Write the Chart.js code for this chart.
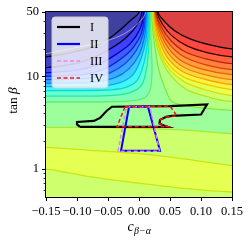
<!DOCTYPE html>
<html>
<head>
<meta charset="utf-8">
<title>tan beta vs c(beta-alpha)</title>
<script src="https://cdn.jsdelivr.net/npm/chart.js@4.4.1/dist/chart.umd.min.js"></script>
<style>
  html, body { margin: 0; padding: 0; background: #fff; }
  #box { width: 251px; height: 242px; }
</style>
</head>
<body>
<div id="box"><canvas id="scan" width="251" height="242"></canvas></div>
<script>
// axes
const X_MIN = -0.15, X_MAX = 0.15;
const Y_MIN = 0.5, Y_MAX = 50;
const X_TICKS = [-0.15, -0.1, -0.05, 0, 0.05, 0.1, 0.15];
const Y_TICKS = [0.6, 0.7, 0.8, 0.9, 1, 2, 3, 4, 5, 6, 7, 8, 9, 10, 20, 30, 40, 50];
const Y_LABELS = [1, 10, 50];

// contours of the left fan, from the top edge down to the left edge  [c, tanb]
const L1 = [[0.0, 50], [-0.0129, 41.0], [-0.0306, 32.0], [-0.0468, 26.3], [-0.0710, 21.5], [-0.1032, 18.6], [-0.15, 16.4]];
const L2 = [[0.0048, 50], [-0.0032, 36.2], [-0.0210, 26.3], [-0.0435, 20.5], [-0.0710, 16.4], [-0.1032, 13.8], [-0.15, 12.5]];
const L3 = [[0.0073, 50], [0.0016, 32.8], [-0.0145, 22.6], [-0.0355, 17.7], [-0.0629, 13.8], [-0.0952, 11.9], [-0.15, 11.0]];
const L4 = [[0.0089, 50], [0.0040, 29.7], [-0.0097, 20.5], [-0.0290, 15.6], [-0.0548, 12.2], [-0.0871, 10.6], [-0.15, 10.1]];
const L5 = [[0.0105, 50], [0.0065, 28.3], [-0.0048, 19.0], [-0.0226, 13.8], [-0.0468, 11.0], [-0.0790, 9.64], [-0.15, 9.29]];
const L6 = [[0.0121, 50], [0.0089, 26.9], [0.0, 17.2], [-0.0161, 12.2], [-0.0387, 9.75], [-0.0710, 8.73], [-0.15, 8.51]];
const L7 = [[0.0137, 50], [0.0113, 25.6], [0.0032, 15.6], [-0.0097, 10.5], [-0.0306, 8.62], [-0.0629, 7.91], [-0.15, 7.81]];
const L8 = [[0.0153, 50], [0.0137, 24.4], [0.0081, 14.1], [-0.0032, 9.06], [-0.0226, 7.62], [-0.0548, 7.16], [-0.15, 7.07]];
const L9 = [[0.0169, 50], [0.0161, 24.4], [0.0129, 13.1], [0.0048, 8.20], [-0.0145, 6.73], [-0.0468, 6.25], [-0.15, 6.17]];
const L10 = [[0.0185, 50], [0.0194, 24.4], [0.0210, 11.6], [0.0177, 7.07], [0.0065, 5.80], [-0.0306, 5.39], [-0.15, 5.32]];

// contours of the right fan, from the top edge out to the right edge
const R92 = [[0.0306, 50], [0.0419, 39.0], [0.0581, 31.2], [0.0823, 25.6], [0.1145, 22.1], [0.15, 20.0]];
const R88 = [[0.0290, 50], [0.0387, 36.2], [0.0532, 27.6], [0.0774, 21.5], [0.1113, 18.1], [0.15, 16.4]];
const R84 = [[0.0274, 50], [0.0371, 33.6], [0.0516, 24.4], [0.0742, 18.6], [0.1081, 15.6], [0.15, 13.8]];
const R80 = [[0.0266, 50], [0.0355, 32.0], [0.0500, 22.1], [0.0726, 16.4], [0.1065, 13.5], [0.15, 11.9]];
const R76 = [[0.0258, 50], [0.0339, 30.5], [0.0484, 20.0], [0.0710, 14.5], [0.1048, 11.9], [0.15, 10.5]];
const R72 = [[0.0250, 50], [0.0323, 29.0], [0.0468, 18.1], [0.0710, 12.8], [0.1065, 10.5], [0.15, 9.29]];
const R68 = [[0.0242, 50], [0.0306, 27.6], [0.0452, 16.4], [0.0710, 11.3], [0.1081, 9.29], [0.15, 8.20]];
const R64 = [[0.0234, 50], [0.0290, 26.3], [0.0435, 14.9], [0.0710, 10.0], [0.1097, 8.20], [0.15, 7.25]];
const R60 = [[0.0226, 50], [0.0282, 25.0], [0.0435, 13.5], [0.0726, 8.84], [0.1113, 7.07], [0.15, 6.25]];
const R56 = [[0.0218, 50], [0.0266, 24.4], [0.0435, 12.2], [0.0742, 7.43], [0.1145, 5.95], [0.15, 5.39]];
const R52 = [[0.0202, 50], [0.0242, 24.4], [0.0323, 11.6], [0.0435, 7.07], [0.0532, 5.39], [0.0823, 4.76], [0.15, 4.31]];

// lower contours, left edge to right edge
const B1 = [[-0.15, 2.83], [-0.079, 2.83], [0.0016, 2.76], [0.0823, 2.63], [0.15, 2.42]];
const B2 = [[-0.15, 1.72], [-0.079, 1.60], [0.0, 1.47], [0.0661, 1.31], [0.15, 1.10]];
const B3 = [[-0.15, 1.00], [-0.1113, 0.906], [-0.0629, 0.80], [0.0, 0.707], [0.0661, 0.625], [0.15, 0.566]];

// faint grey curve in the upper left
const FAINT = [[-0.15, 17.7], [-0.0952, 21.0], [-0.0629, 23.2], [-0.0306, 27.6], [-0.0097, 33.6], [0.0065, 43.1], [0.0113, 50]];

// allowed regions I - IV
const REG_I = [[-0.0952, 2.87], [-0.1000, 3.05], [-0.1000, 3.24], [-0.0726, 3.32], [-0.0629, 3.58], [-0.0516, 4.31], [-0.0435, 4.73],
  [0.0500, 4.81], [0.1097, 5.00], [0.1000, 3.90], [0.0532, 3.76], [0.0435, 3.67], [0.0339, 3.41], [0.0331, 3.12],
  [0.0403, 2.97], [0.0468, 2.87], [-0.0952, 2.87]];
const REG_II = [[-0.0161, 4.73], [0.0145, 4.73], [0.0339, 1.58], [-0.0290, 1.58], [-0.0161, 4.73]];
const REG_III = [[-0.0202, 4.73], [0.0177, 4.73], [0.0331, 1.56], [-0.0339, 1.56], [-0.0202, 4.73]];
const REG_IV = [[-0.0226, 4.73], [0.0500, 4.81], [0.0613, 3.76], [0.0435, 3.67], [0.0339, 3.41], [0.0331, 3.12],
  [0.0403, 2.97], [0.0468, 2.87], [-0.0355, 2.87], [-0.0226, 4.73]];

const SERIES = ['I', 'II', 'III', 'IV'];
const SERIES_COLOR = ['#000000', '#0000ff', '#ee82ee', '#ff1010'];

// colours
const MID_FILL = '#9cff9c';
const LEFT = [L1, L2, L3, L4, L5, L6, L7, L8, L9, L10];
const LEFT_FILL = ['#4040a0', '#4040cb', '#4040ff', '#405bff', '#4081ff', '#40a7ff', '#40cdff', '#46f4f4', '#64ffd3', '#83ffb5'];
const LEFT_LINE = ['#000000', '#000030', '#0000a0', '#0020d8', '#0050f0', '#0080f0', '#00b0f0', '#00d8e0', '#20e8a0', '#60f070'];
const RIGHT = [R92, R88, R84, R80, R76, R72, R68, R64, R60, R56, R52];
const RIGHT_FILL = ['#dd4242', '#ff4740', '#ff6440', '#ff8040', '#ff9c40', '#ffb940', '#ffd540', '#fff140', '#e6ff53', '#ceff6c', '#b5ff83'];
const RIGHT_LINE = ['#000000', '#300000', '#c02000', '#d84000', '#e86000', '#f08000', '#f0a000', '#f0c800', '#d8e000', '#b0e820', '#80e840'];
const LOW = [B1, B2, B3];
const LOW_FILL = ['#ceff6c', '#e6ff53', '#ceff6c'];
const LOW_LINE = ['#a8e830', '#c4e810', '#c4e810'];

const X_OUT_L = X_MIN - 0.05, X_OUT_R = X_MAX + 0.05;
const Y_OUT = Y_MAX * 3, Y_LOW = Y_MIN / 3;

const pts = (arr) => arr.map(([x, y]) => ({ x, y }));

function leftShape(c) {
  const last = c[c.length - 1];
  return [{ x: c[0][0], y: Y_OUT }, ...pts(c), { x: X_OUT_L, y: last[1] }, { x: X_OUT_L, y: Y_OUT }];
}
function rightShape(c) {
  const last = c[c.length - 1];
  return [{ x: X_OUT_R, y: Y_OUT }, { x: c[0][0], y: Y_OUT }, ...pts(c), { x: X_OUT_R, y: last[1] }];
}
function lowShape(c) {
  const last = c[c.length - 1];
  return [{ x: X_OUT_L, y: c[0][1] }, ...pts(c), { x: X_OUT_R, y: last[1] }, { x: X_OUT_R, y: Y_LOW }, { x: X_OUT_L, y: Y_LOW }];
}
function band(data, fillColor, lineColor) {
  return { data, fill: 'shape', backgroundColor: fillColor, borderColor: lineColor, borderWidth: 1.3, tension: 0.3, pointRadius: 0, clip: 0 };
}
function outline(arr, color, width, dash) {
  return { data: pts(arr), fill: false, borderColor: color, borderWidth: width, borderDash: dash, tension: 0, pointRadius: 0, clip: 0 };
}

// paint order: first entry lowest
const paint = [];
LOW.forEach((c, i) => paint.push(band(lowShape(c), LOW_FILL[i], LOW_LINE[i])));
for (let i = RIGHT.length - 1; i >= 0; i--) paint.push(band(rightShape(RIGHT[i]), RIGHT_FILL[i], RIGHT_LINE[i]));
for (let i = LEFT.length - 1; i >= 0; i--) paint.push(band(leftShape(LEFT[i]), LEFT_FILL[i], LEFT_LINE[i]));
paint.push({ data: pts(FAINT), fill: false, borderColor: 'rgba(215,215,215,0.6)', borderWidth: 1, tension: 0.3, pointRadius: 0, clip: 0 });
paint.push(outline(REG_I, SERIES_COLOR[0], 2.2, []));
paint.push(outline(REG_II, SERIES_COLOR[1], 2, []));
paint.push(outline(REG_III, SERIES_COLOR[2], 1.5, [4, 2.5]));
paint.push(outline(REG_IV, SERIES_COLOR[3], 1.5, [4, 2.5]));

const datasets = paint.map((d, i) => ({ ...d, order: paint.length - i }));

const plotBg = {
  id: 'plotBg',
  beforeDatasetsDraw(chart) {
    const a = chart.chartArea, ctx = chart.ctx;
    ctx.save();
    ctx.fillStyle = MID_FILL;
    ctx.fillRect(a.left, a.top, a.right - a.left, a.bottom - a.top);
    ctx.restore();
  }
};

const frameAndLegend = {
  id: 'frameAndLegend',
  afterDatasetsDraw(chart) {
    const a = chart.chartArea, ctx = chart.ctx;
    ctx.save();
    ctx.strokeStyle = '#000';
    ctx.lineWidth = 1;
    ctx.strokeRect(Math.round(a.left) - 0.5, Math.round(a.top) - 0.5, Math.round(a.right - a.left) + 1, Math.round(a.bottom - a.top) + 1);

    // legend box
    const x0 = a.left + 6, y0 = a.top + 5, w = 56, h = 71, r = 3;
    ctx.beginPath();
    ctx.moveTo(x0 + r, y0);
    ctx.arcTo(x0 + w, y0, x0 + w, y0 + h, r);
    ctx.arcTo(x0 + w, y0 + h, x0, y0 + h, r);
    ctx.arcTo(x0, y0 + h, x0, y0, r);
    ctx.arcTo(x0, y0, x0 + w, y0, r);
    ctx.closePath();
    ctx.fillStyle = 'rgba(255,255,255,0.8)';
    ctx.fill();
    ctx.strokeStyle = '#cccccc';
    ctx.stroke();

    const widths = [2.2, 2.2, 1.5, 1.5];
    const dashes = [[], [], [4, 2.5], [4, 2.5]];
    ctx.font = '12.5px "Liberation Serif", serif';
    ctx.textBaseline = 'middle';
    SERIES.forEach((name, i) => {
      const y = y0 + 10 + i * 17;
      ctx.beginPath();
      ctx.setLineDash(dashes[i]);
      ctx.strokeStyle = SERIES_COLOR[i];
      ctx.lineWidth = widths[i];
      ctx.moveTo(x0 + 5, y);
      ctx.lineTo(x0 + 28, y);
      ctx.stroke();
      ctx.setLineDash([]);
      ctx.fillStyle = '#000';
      ctx.fillText(name, x0 + 38, y + 0.5);
    });
    ctx.restore();
  },
  afterDraw(chart) {
    const a = chart.chartArea, ctx = chart.ctx;
    const ys = chart.scales.y;
    ctx.save();
    // minor ticks on the log axis
    ctx.strokeStyle = '#000';
    ctx.lineWidth = 0.8;
    Y_TICKS.filter(v => !Y_LABELS.includes(v)).forEach(v => {
      const py = Math.round(ys.getPixelForValue(v)) + 0.5;
      ctx.beginPath();
      ctx.moveTo(a.left - 2.5, py);
      ctx.lineTo(a.left, py);
      ctx.stroke();
    });

    // axis titles
    ctx.fillStyle = '#000';
    ctx.textBaseline = 'alphabetic';
    ctx.font = '14px "Liberation Serif", serif';
    const c = 'c';
    ctx.font = 'italic 14px "Liberation Serif", serif';
    const wc = ctx.measureText(c).width;
    ctx.font = 'italic 10px "Liberation Serif", serif';
    const sub = 'β\u2212α';
    const ws = ctx.measureText(sub).width;
    const cx = (a.left + a.right) / 2;
    let sx = cx - (wc + ws) / 2;
    ctx.font = 'italic 14px "Liberation Serif", serif';
    ctx.fillText(c, sx, 231);
    ctx.font = 'italic 10px "Liberation Serif", serif';
    ctx.fillText(sub, sx + wc + 0.5, 234);

    ctx.translate(17, (a.top + a.bottom) / 2 - 4);
    ctx.rotate(-Math.PI / 2);
    ctx.font = '13.5px "Liberation Serif", serif';
    const t1 = 'tan ';
    const w1 = ctx.measureText(t1).width;
    ctx.font = 'italic 13.5px "Liberation Serif", serif';
    const w2 = ctx.measureText('β').width;
    ctx.font = '13.5px "Liberation Serif", serif';
    ctx.fillText(t1, -(w1 + w2) / 2, 0);
    ctx.font = 'italic 13.5px "Liberation Serif", serif';
    ctx.fillText('β', -(w1 + w2) / 2 + w1, 0);
    ctx.restore();
  }
};

const tickFont = { family: '"Liberation Serif", serif', size: 12.5 };

new Chart(document.getElementById('scan'), {
  type: 'line',
  data: { datasets },
  options: {
    responsive: false,
    animation: false,
    devicePixelRatio: 1,
    layout: { padding: { left: 0, right: 19, top: 12, bottom: 0 } },
    elements: { line: { capBezierPoints: false } },
    plugins: { legend: { display: false }, tooltip: { enabled: false } },
    scales: {
      x: {
        type: 'linear',
        min: X_MIN,
        max: X_MAX,
        afterBuildTicks: (scale) => { scale.ticks = X_TICKS.map(v => ({ value: v })); },
        afterFit: (scale) => { scale.height = 45; },
        ticks: {
          autoSkip: false,
          maxRotation: 0,
          padding: 3,
          color: '#000',
          font: tickFont,
          callback: (v) => (Math.abs(v) < 1e-9 ? '0.00' : Number(v).toFixed(2)).replace('-', '\u2212')
        },
        grid: { drawOnChartArea: false, drawTicks: true, tickLength: 4, tickColor: '#000' },
        border: { display: true, color: '#000' }
      },
      y: {
        type: 'logarithmic',
        min: Y_MIN,
        max: Y_MAX,
        afterBuildTicks: (scale) => { scale.ticks = Y_TICKS.map(v => ({ value: v })); },
        afterFit: (scale) => { scale.width = 46; },
        ticks: {
          autoSkip: false,
          padding: 3,
          color: '#000',
          font: tickFont,
          callback: (v) => (Y_LABELS.includes(v) ? String(v) : '')
        },
        grid: {
          drawOnChartArea: false,
          drawTicks: true,
          tickLength: 4,
          tickColor: (ctx) => (ctx.tick && Y_LABELS.includes(ctx.tick.value) ? '#000' : 'rgba(0,0,0,0)')
        },
        border: { display: true, color: '#000' }
      }
    }
  },
  plugins: [plotBg, frameAndLegend]
});
</script>
</body>
</html>
